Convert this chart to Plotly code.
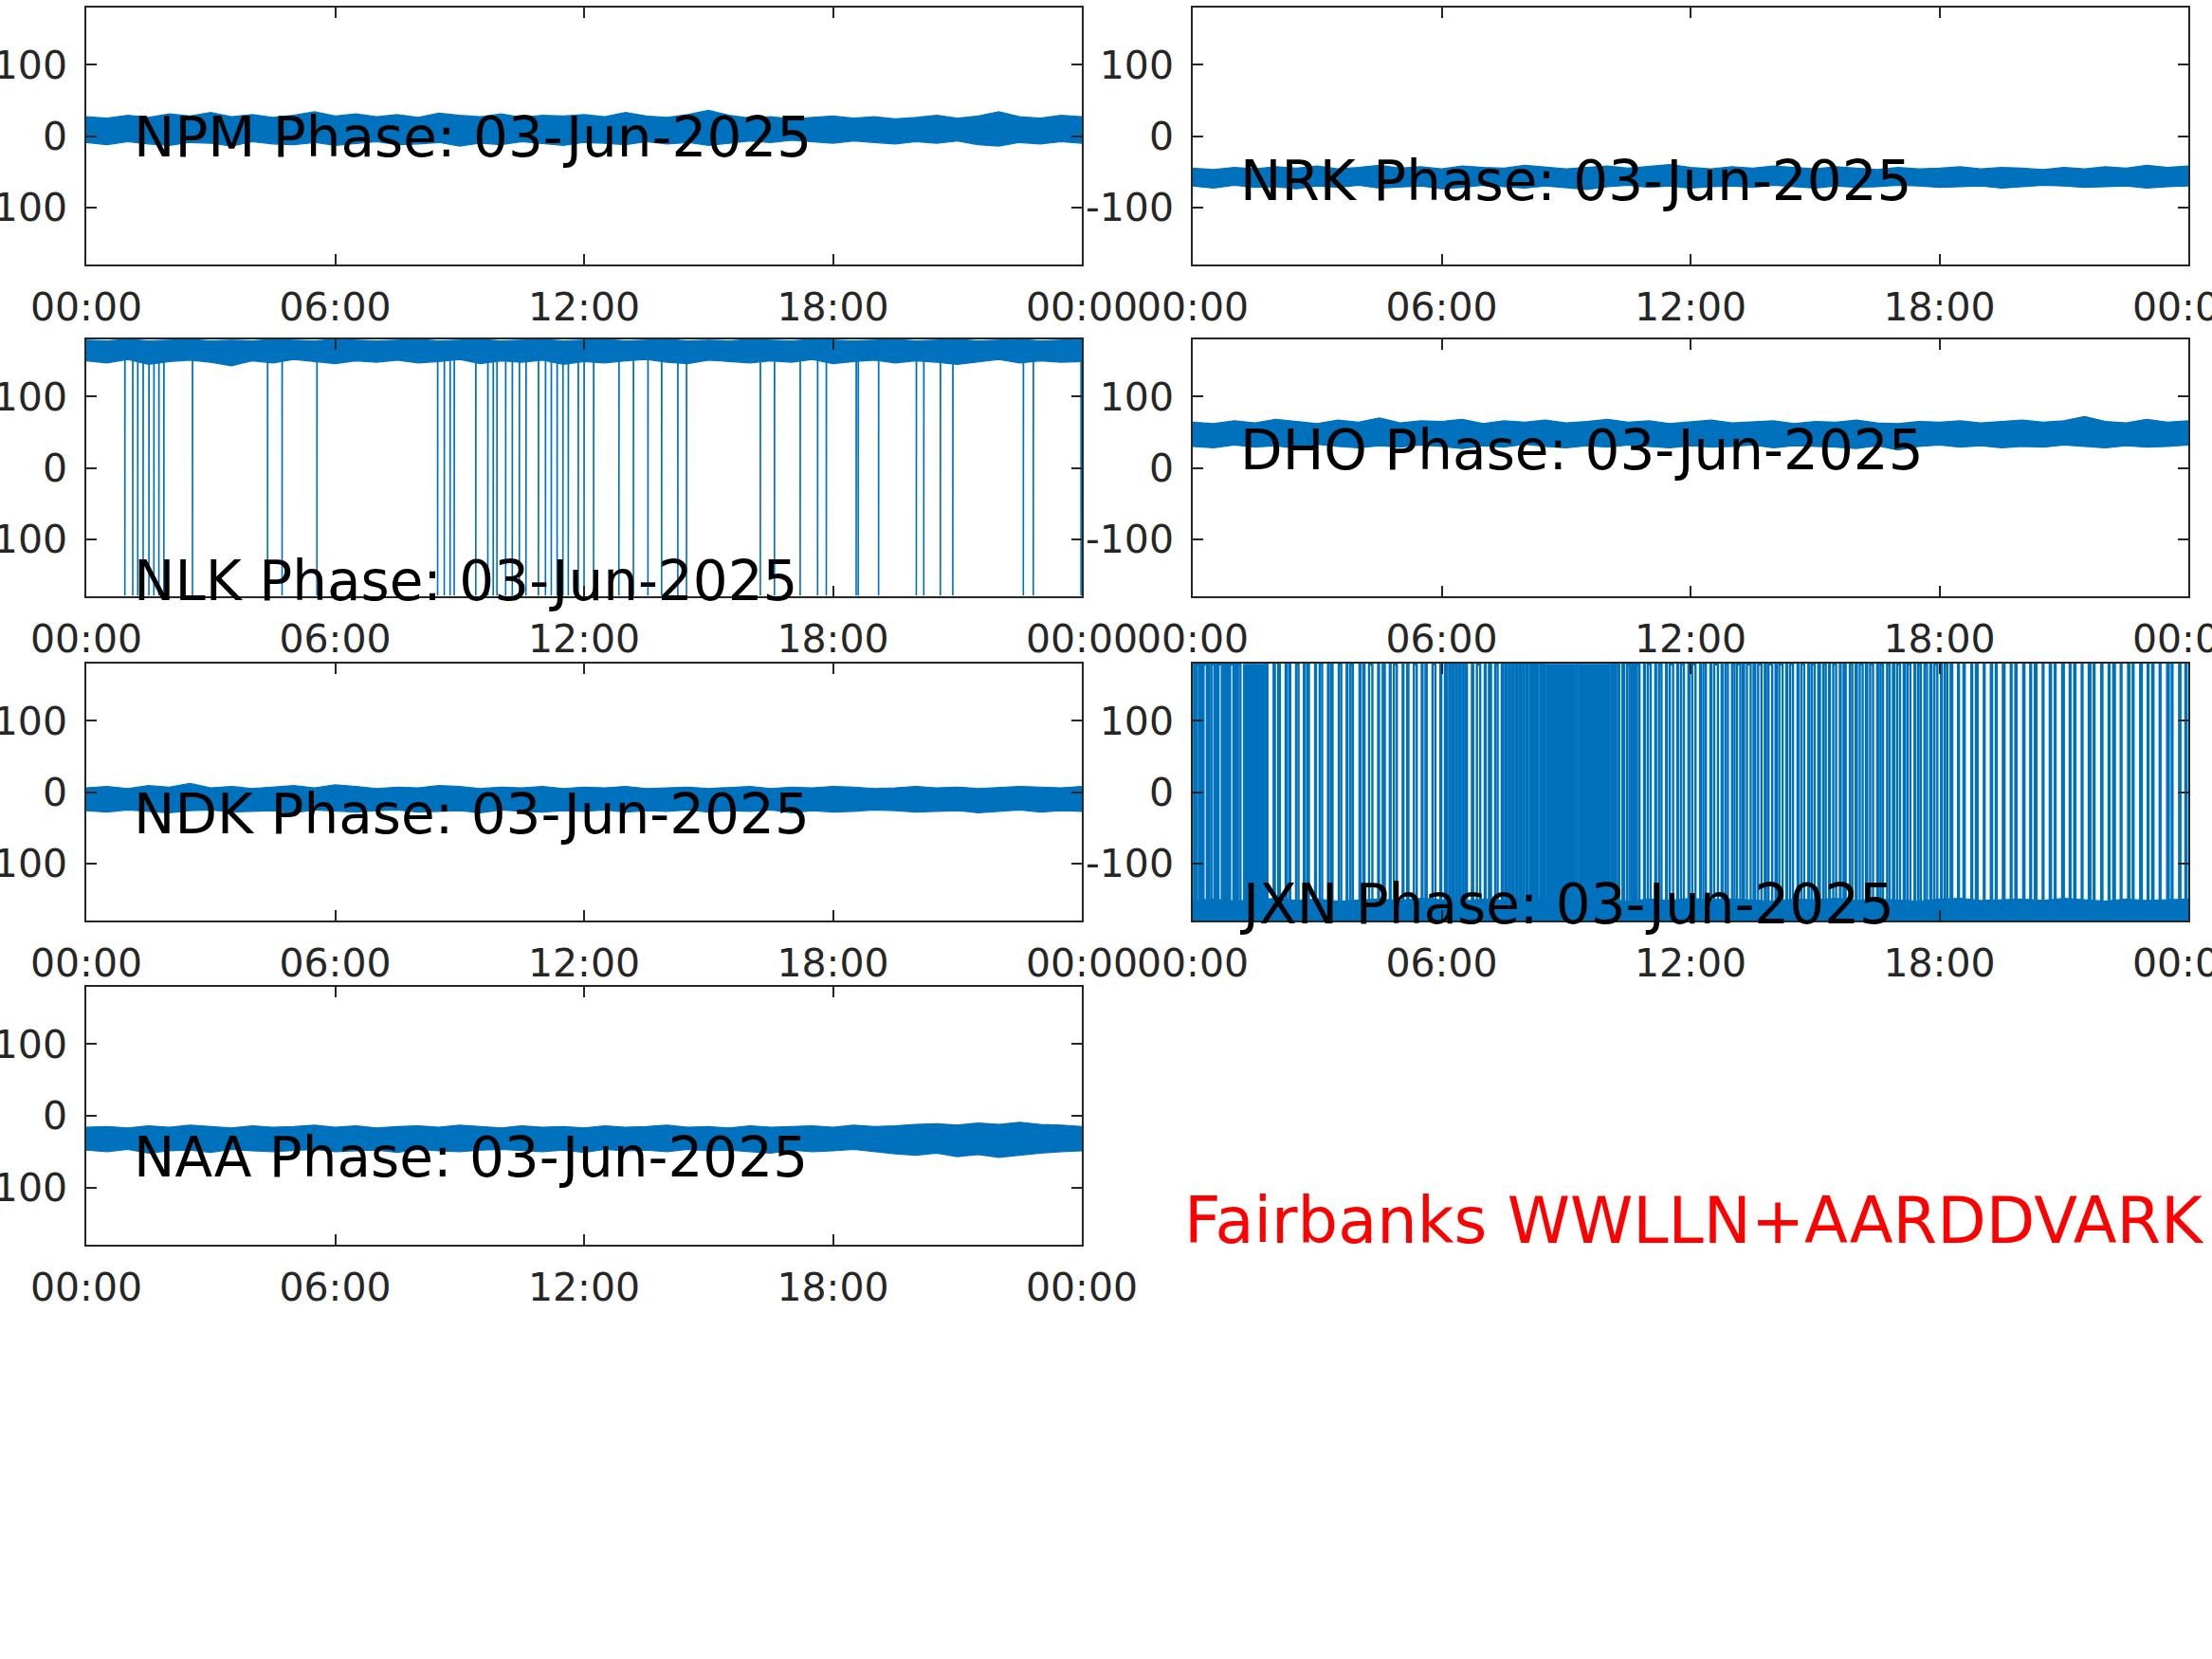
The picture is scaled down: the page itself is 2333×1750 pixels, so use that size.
import plotly.graph_objects as go

# ---------------- data ----------------
hours_half = [i * 0.5 for i in range(49)]  # 00:00 .. 24:00, half-hour samples

stations = ["NPM", "NRK", "NLK", "DHO", "NDK", "JXN", "NAA"]
date_label = "03-Jun-2025"

npm_upper = [27, 25, 29, 26, 31, 28, 33, 27, 30, 26, 29, 34, 28, 31, 27, 30, 26, 32, 29, 27, 31, 26, 29, 28, 30,
             27, 33, 28, 26, 30, 36, 29, 25, 27, 24, 26, 28, 25, 27, 24, 26, 29, 25, 28, 34, 27, 25, 29, 27]
npm_lower = [-9, -12, -8, -11, -13, -9, -10, -14, -8, -11, -12, -9, -13, -10, -8, -12, -11, -9, -14, -10, -12, -8, -11, -13, -9,
             -10, -12, -8, -11, -9, -13, -10, -7, -9, -6, -8, -10, -7, -9, -11, -8, -10, -7, -12, -14, -9, -11, -8, -10]

nrk_upper = [-45, -47, -44, -46, -43, -45, -42, -46, -44, -41, -45, -43, -46, -42, -44, -45, -41, -43, -46, -44, -42, -45, -43, -40, -44,
             -46, -43, -45, -42, -44, -46, -43, -45, -47, -44, -46, -45, -43, -46, -44, -45, -47, -44, -46, -43, -45, -41, -44, -42]
nrk_lower = [-70, -73, -69, -72, -71, -74, -70, -72, -69, -73, -71, -70, -74, -72, -69, -71, -73, -70, -72, -75, -71, -69, -72, -70, -73,
             -71, -70, -72, -69, -71, -73, -70, -72, -71, -69, -70, -72, -71, -70, -73, -71, -69, -70, -72, -71, -70, -73, -71, -70]

nlk_upper = [179, 178, 180, 178, 179, 180, 178, 179, 178, 180, 179, 178, 180, 179, 178, 179, 180, 178, 179, 180, 178, 179, 180, 178, 179,
             180, 178, 179, 180, 178, 179, 178, 180, 179, 178, 180, 179, 178, 179, 180, 178, 179, 180, 178, 179, 180, 178, 179, 180]
nlk_lower = [150, 147, 152, 145, 149, 151, 148, 143, 150, 147, 152, 149, 146, 150, 148, 151, 147, 149, 152, 146, 150, 148, 151, 145, 149,
             147, 150, 152, 148, 146, 151, 149, 147, 150, 148, 152, 146, 149, 151, 147, 150, 148, 145, 149, 152, 147, 150, 148, 149]
nlk_dropout_hours = [0.93, 1.12, 1.24, 1.37, 1.51, 1.63, 1.75, 1.87, 2.56, 4.37, 4.72, 5.56, 8.47, 8.63, 8.77, 8.87,
                     9.39, 9.68, 9.81, 9.90, 10.11, 10.27, 10.44, 10.60, 10.90, 11.07, 11.21, 11.35, 11.49, 11.62,
                     11.86, 12.00, 12.23, 12.84, 13.19, 13.54, 13.87, 14.26, 14.47, 16.25, 16.59, 17.21, 17.63,
                     17.84, 18.56, 18.61, 19.10, 20.01, 20.19, 20.59, 20.89, 22.59, 22.83, 23.98]
nlk_dropout_level = -179
nlk_normal_level = 160

dho_upper = [64, 62, 66, 63, 68, 65, 62, 67, 64, 70, 63, 66, 65, 68, 62, 66, 64, 67, 63, 65, 68, 64, 66, 62, 65,
             67, 63, 64, 66, 62, 65, 64, 67, 63, 62, 65, 64, 66, 63, 65, 67, 64, 66, 72, 65, 63, 68, 64, 66]
dho_lower = [30, 28, 32, 29, 31, 27, 33, 30, 28, 31, 29, 32, 30, 27, 31, 29, 33, 30, 28, 31, 29, 32, 30, 28, 31,
             29, 30, 32, 28, 31, 30, 29, 27, 31, 25, 30, 32, 29, 31, 28, 30, 29, 32, 30, 28, 31, 29, 30, 32]

ndk_upper = [6, 8, 5, 9, 7, 12, 6, 8, 5, 7, 9, 6, 10, 8, 5, 7, 6, 9, 8, 5, 7, 6, 8, 5, 7,
             6, 8, 5, 6, 7, 5, 6, 8, 5, 7, 6, 8, 7, 5, 6, 8, 6, 7, 5, 6, 8, 7, 6, 8]
ndk_lower = [-26, -28, -25, -27, -29, -26, -25, -28, -27, -26, -29, -25, -27, -28, -26, -25, -28, -27, -26, -29, -25, -27, -28, -26, -27,
             -25, -28, -26, -27, -25, -28, -26, -27, -25, -29, -26, -28, -27, -25, -26, -28, -27, -26, -29, -27, -25, -28, -26, -27]

jxn_upper = [-152, -150, -153, -151, -149, -152, -150, -153, -151, -150, -152, -149, -151, -153, -150, -152, -151, -149, -152, -150, -151, -153, -150, -152, -149,
             -151, -150, -152, -153, -150, -151, -149, -152, -150, -151, -153, -150, -149, -152, -151, -150, -152, -149, -151, -153, -150, -152, -151, -150]
jxn_lower = [-180] * 49
jxn_bottom_level = -165
jxn_top_level = 179
# periods where the phase flips so fast that the trace is a solid block
jxn_rapid_spans = [(1.22, 1.45), (1.52, 1.74), (8.52, 9.22), (9.30, 10.06)]
# individual wrap-arounds (start hour, end hour)
jxn_wraps = [
    (0.03, 0.06), (0.10, 0.16), (0.19, 0.22), (0.26, 0.34), (0.37, 0.40), (0.45, 0.52), (0.56, 0.58), (0.62, 0.70),
    (0.74, 0.79), (0.83, 0.86), (0.90, 0.98), (1.01, 1.05), (1.09, 1.15), (1.47, 1.49), (1.76, 1.80),
    (1.95, 1.98), (2.06, 2.10), (2.24, 2.27), (2.33, 2.35), (2.49, 2.55), (2.68, 2.70), (2.76, 2.80), (2.95, 2.97),
    (3.06, 3.12), (3.26, 3.28), (3.34, 3.37), (3.52, 3.58), (3.71, 3.73), (3.80, 3.86), (4.02, 4.04), (4.11, 4.14),
    (4.25, 4.33), (4.47, 4.49), (4.58, 4.63), (4.75, 4.77), (4.85, 4.92), (5.06, 5.08), (5.17, 5.20), (5.33, 5.40),
    (5.52, 5.54), (5.61, 5.64), (5.78, 5.85), (5.97, 5.99), (6.08, 6.12), (6.18, 6.21), (6.26, 6.29), (6.34, 6.37),
    (6.42, 6.45), (6.50, 6.53), (6.58, 6.61), (6.73, 6.76), (6.85, 6.93), (7.04, 7.06), (7.14, 7.19), (7.29, 7.35),
    (7.45, 7.48), (7.53, 7.57), (7.62, 7.65), (7.70, 7.74), (7.79, 7.82), (7.87, 7.91), (7.96, 7.99), (8.04, 8.08),
    (8.13, 8.16), (8.21, 8.25), (8.30, 8.33), (8.38, 8.42), (8.46, 8.49), (9.25, 9.27),
    (10.09, 10.12), (10.17, 10.20), (10.25, 10.28), (10.36, 10.40), (10.47, 10.53), (10.58, 10.60), (10.64, 10.67),
    (10.71, 10.77), (10.88, 10.90), (10.97, 11.04), (11.15, 11.17),
    (11.24, 11.30), (11.41, 11.43), (11.50, 11.58), (11.68, 11.70), (11.77, 11.84), (11.95, 11.97), (12.04, 12.12),
    (12.23, 12.25), (12.31, 12.37), (12.48, 12.50), (12.57, 12.66), (12.75, 12.77), (12.84, 12.90), (13.00, 13.06),
    (13.12, 13.20), (13.26, 13.29), (13.36, 13.45), (13.52, 13.56), (13.63, 13.71), (13.79, 13.82), (13.88, 13.97),
    (14.05, 14.08), (14.14, 14.22), (14.31, 14.33), (14.40, 14.47), (14.58, 14.60), (14.67, 14.74), (14.84, 14.86),
    (14.92, 14.99),
    (15.08, 15.12), (15.20, 15.26), (15.34, 15.36), (15.44, 15.51), (15.60, 15.62), (15.69, 15.74), (15.84, 15.90),
    (15.98, 16.01), (16.08, 16.15), (16.23, 16.26), (16.33, 16.40), (16.50, 16.52), (16.58, 16.64), (16.74, 16.80),
    (16.88, 16.91), (16.98, 17.05), (17.14, 17.17), (17.23, 17.30), (17.40, 17.42), (17.49, 17.55), (17.64, 17.70),
    (17.78, 17.81), (17.88, 17.95), (18.04, 18.06), (18.13, 18.19), (18.27, 18.31),
    (18.45, 18.47), (18.58, 18.61), (18.77, 18.79), (18.88, 18.92), (19.07, 19.09), (19.24, 19.27), (19.36, 19.38),
    (19.53, 19.57), (19.72, 19.74), (19.83, 19.86), (20.02, 20.05), (20.19, 20.21), (20.30, 20.34), (20.49, 20.51),
    (20.66, 20.69), (20.78, 20.80), (20.96, 21.00), (21.14, 21.16), (21.25, 21.28), (21.43, 21.45), (21.60, 21.64),
    (21.72, 21.74), (21.90, 21.93), (22.08, 22.10), (22.19, 22.23), (22.37, 22.39), (22.55, 22.58), (22.66, 22.68),
    (22.84, 22.88), (23.02, 23.04), (23.13, 23.16), (23.31, 23.33), (23.49, 23.53), (23.60, 23.62), (23.78, 23.81),
    (23.93, 23.96),
]

naa_upper = [-16, -15, -17, -14, -16, -13, -15, -17, -14, -16, -15, -13, -16, -14, -17, -15, -14, -16, -13, -15, -17, -14, -16, -15, -17,
             -14, -16, -15, -13, -16, -15, -17, -14, -16, -15, -14, -16, -13, -15, -14, -12, -11, -13, -10, -12, -9, -12, -13, -15]
naa_lower = [-48, -50, -47, -52, -49, -48, -51, -47, -49, -50, -48, -47, -50, -49, -48, -51, -47, -49, -50, -48, -47, -49, -50, -48, -51,
             -47, -49, -48, -50, -47, -49, -48, -50, -52, -48, -50, -49, -47, -50, -53, -55, -52, -57, -54, -58, -55, -52, -50, -49]

# label anchor (phase value) for each station's title text
label_y = {"NPM": -2, "NRK": -63, "NLK": -159, "DHO": 24, "NDK": -31, "JXN": -158, "NAA": -58}
label_x_hour = 1.1

x_tickvals = [0, 6, 12, 18, 24]
x_ticktext = ["00:00", "06:00", "12:00", "18:00", "00:00"]
y_tickvals = [-100, 0, 100]
y_ticktext = ["-100", "0", "100"]

footer_text = "Fairbanks WWLLN+AARDDVARK"

# ---------------- styling / layout ----------------
W, H = 2333, 1750
BLUE = "#0072BD"
AXC = "#262626"
FONT = "DejaVu Sans"

col_px = [(91, 1141), (1258, 2308)]
row_px = [(8, 279), (358, 629), (700, 971), (1041, 1313)]
panel_pos = [(0, 0), (0, 1), (1, 0), (1, 1), (2, 0), (2, 1), (3, 0)]

bands = {
    "NPM": (npm_upper, npm_lower),
    "NRK": (nrk_upper, nrk_lower),
    "NLK": (nlk_upper, nlk_lower),
    "DHO": (dho_upper, dho_lower),
    "NDK": (ndk_upper, ndk_lower),
    "JXN": (jxn_upper, jxn_lower),
    "NAA": (naa_upper, naa_lower),
}

fig = go.Figure()
layout = dict(width=W, height=H, margin=dict(l=0, r=0, t=0, b=0, autoexpand=False),
              paper_bgcolor="white", plot_bgcolor="white", showlegend=False,
              font=dict(family=FONT, color=AXC))
annotations = []

for i, name in enumerate(stations):
    k = i + 1
    xa = "x" if k == 1 else f"x{k}"
    ya = "y" if k == 1 else f"y{k}"
    r, c = panel_pos[i]
    x0, x1 = col_px[c]
    y0, y1 = row_px[r]
    up, lo = bands[name]

    # noise band
    fig.add_trace(go.Scatter(
        x=hours_half + hours_half[::-1], y=up + lo[::-1],
        fill="toself", fillcolor=BLUE, mode="lines",
        line=dict(color=BLUE, width=1.2), xaxis=xa, yaxis=ya, hoverinfo="skip"))

    if name == "NLK":
        xs, ys = [], []
        for t in nlk_dropout_hours:
            xs += [t, t, t + 0.004, t + 0.004, None]
            ys += [nlk_normal_level, nlk_dropout_level, nlk_dropout_level, nlk_normal_level, None]
        fig.add_trace(go.Scatter(x=xs, y=ys, mode="lines", line=dict(color=BLUE, width=1.6),
                                 xaxis=xa, yaxis=ya, hoverinfo="skip"))
    if name == "JXN":
        for s, e in jxn_rapid_spans:
            fig.add_trace(go.Scatter(
                x=[s, e, e, s, s],
                y=[jxn_bottom_level, jxn_bottom_level, jxn_top_level, jxn_top_level, jxn_bottom_level],
                fill="toself", fillcolor=BLUE, mode="lines", line=dict(color=BLUE, width=1),
                xaxis=xa, yaxis=ya, hoverinfo="skip"))
        xs, ys = [], []
        for s, e in jxn_wraps:
            xs += [s, s, e, e, None]
            ys += [jxn_bottom_level, jxn_top_level, jxn_top_level, jxn_bottom_level, None]
        fig.add_trace(go.Scatter(x=xs, y=ys, mode="lines", line=dict(color=BLUE, width=2.4),
                                 xaxis=xa, yaxis=ya, hoverinfo="skip"))

    axis_common = dict(showline=True, linecolor=AXC, linewidth=1.5, mirror="ticks",
                       ticks="inside", ticklen=11, tickwidth=1.5, tickcolor=AXC,
                       showgrid=False, zeroline=False, automargin=False,
                       ticklabeloverflow="allow",
                       tickfont=dict(family=FONT, size=41, color=AXC))
    layout["xaxis" if k == 1 else f"xaxis{k}"] = dict(
        domain=[x0 / W, x1 / W], anchor=ya, range=[0, 24],
        tickmode="array", tickvals=x_tickvals, ticktext=x_ticktext,
        ticklabelstandoff=8, **axis_common)
    layout["yaxis" if k == 1 else f"yaxis{k}"] = dict(
        domain=[1 - y1 / H, 1 - y0 / H], anchor=xa, range=[-180, 180],
        tickmode="array", tickvals=y_tickvals, ticktext=y_ticktext,
        ticklabelstandoff=10, **axis_common)

    annotations.append(dict(
        x=label_x_hour, y=label_y[name], xref=xa, yref=ya,
        text=f"{name} Phase: {date_label}", showarrow=False,
        xanchor="left", yanchor="middle",
        font=dict(family=FONT, size=58, color="black")))

annotations.append(dict(
    x=1247 / W, y=1 - 1288 / H, xref="paper", yref="paper",
    text=footer_text, showarrow=False, xanchor="left", yanchor="middle",
    font=dict(family=FONT, size=67, color="#FF0000")))

layout["annotations"] = annotations
fig.update_layout(**layout)
fig.write_html("out.html", config={"displayModeBar": False},
               post_script="document.body.style.margin='0';document.body.style.overflow='hidden';")
